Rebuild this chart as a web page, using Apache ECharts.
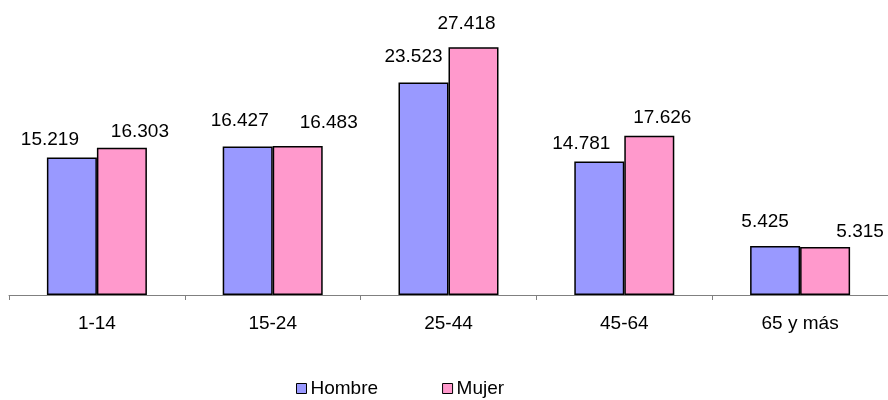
<!DOCTYPE html>
<html>
<head>
<meta charset="utf-8">
<script src="https://cdn.jsdelivr.net/npm/echarts@6/dist/echarts.min.js"></script>
<style>html,body{margin:0;padding:0;background:#fff}#c{width:888px;height:400px}</style>
</head>
<body>
<div id="c"></div>
<script>
var categories = ['1-14', '15-24', '25-44', '45-64', '65 y más'];
var hombre = [15219, 16427, 23523, 14781, 5425];
var mujer = [16303, 16483, 27418, 17626, 5315];
var seriesNames = ['Hombre', 'Mujer'];

// label placement styling (offset from bar centre, gap above bar)
var hombreLabelDx = [-22, -8, -10, -18, -10];
var hombreLabelGap = [12, 20, 20, 12, 19];
var mujerLabelDx = [18, 31, -7, 13, 35];
var mujerLabelGap = [10, 18, 18, 13, 10];

function fmt(v) {
  return String(v).replace(/\B(?=(\d{3})+(?!\d))/g, '.');
}
var FONT = 'Liberation Sans, Arial, sans-serif';
function build(vals, dx, gap) {
  return vals.map(function (v, i) {
    return {
      value: v,
      label: { offset: [dx[i], 0], distance: Math.max(0, gap[i] - 4) }
    };
  });
}

var chart = echarts.init(document.getElementById('c'), null, { renderer: 'canvas' });
chart.setOption({
  animation: false,
  backgroundColor: '#ffffff',
  textStyle: { fontFamily: FONT },
  grid: { left: 9, right: 0, top: 24, bottom: 105, containLabel: false },
  legend: {
    data: seriesNames,
    left: 291,
    top: 374,
    padding: 5,
    icon: 'rect',
    itemWidth: 10,
    itemHeight: 10,
    itemGap: 64,
    textStyle: { fontFamily: FONT, fontSize: 19, color: '#000', padding: [0, 0, 0, -1] },
    itemStyle: { borderColor: '#000', borderWidth: 1 }
  },
  xAxis: {
    type: 'category',
    data: categories,
    boundaryGap: true,
    axisLine: { show: true, lineStyle: { color: '#808080', width: 1 } },
    axisTick: { show: true, length: 5, interval: 0, lineStyle: { color: '#808080' } },
    axisLabel: { fontFamily: FONT, fontSize: 19, color: '#000', margin: 19, interval: 0 },
    splitLine: { show: false }
  },
  yAxis: {
    type: 'value',
    min: 0,
    max: 30000,
    show: false,
    splitLine: { show: false }
  },
  series: [
    {
      name: seriesNames[0],
      type: 'bar',
      barWidth: 50,
      barGap: '0%',
      data: build(hombre, hombreLabelDx, hombreLabelGap),
      itemStyle: { color: '#9999FF', borderColor: '#000', borderWidth: 1.5 },
      label: { show: true, position: 'top', fontFamily: FONT, fontSize: 19, color: '#000', formatter: function (p) { return fmt(p.value); } }
    },
    {
      name: seriesNames[1],
      type: 'bar',
      barWidth: 50,
      barGap: '0%',
      data: build(mujer, mujerLabelDx, mujerLabelGap),
      itemStyle: { color: '#FF99CC', borderColor: '#000', borderWidth: 1.5 },
      label: { show: true, position: 'top', fontFamily: FONT, fontSize: 19, color: '#000', formatter: function (p) { return fmt(p.value); } }
    }
  ]
});
</script>
</body>
</html>
